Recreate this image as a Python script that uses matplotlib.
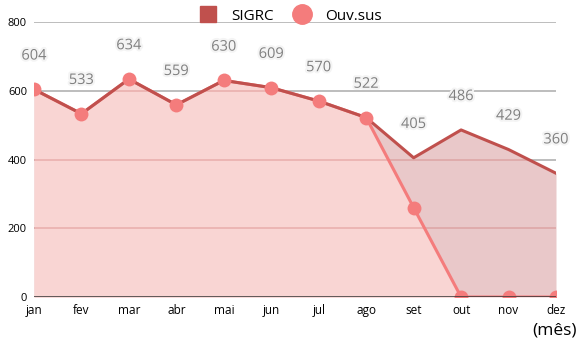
import numpy as np
import matplotlib.pyplot as plt
import matplotlib.patheffects as pe
from matplotlib.lines import Line2D

plt.rcParams['font.family'] = ['Open Sans', 'DejaVu Sans']

# -------------------------------
# Data
# -------------------------------
months = ['jan', 'fev', 'mar', 'abr', 'mai', 'jun', 'jul', 'ago', 'set', 'out', 'nov', 'dez']
sigrc = [604, 533, 634, 559, 630, 609, 570, 522, 405, 486, 429, 360]
ouv_sus = [604, 533, 634, 559, 630, 609, 570, 522, 260, 0, 0, 0]
y_ticks = [0, 200, 400, 600, 800]

dark_red = '#c0504d'
salmon = '#f47c7c'

# -------------------------------
# Plot
# -------------------------------
fig = plt.figure(figsize=(5.78, 3.44), dpi=100)
ax = fig.add_axes([34 / 578, 1 - 297 / 344, (556 - 34) / 578, (297 - 22) / 344])
x = np.arange(len(months))

# grey grid for the empty part of the plot
for yv in y_ticks[1:]:
    ax.axhline(yv, color='#b8b8b8', lw=1.3, zorder=0)

# filled areas: SIGRC underneath, Ouv.sus over it
fill_sigrc = ax.fill_between(x, 0, sigrc, color='#e9c8c9', lw=0, zorder=1)
fill_ouv = ax.fill_between(x, 0, ouv_sus, color='#f9d5d3', lw=0, zorder=2)

# grid seen through the fills, tinted red
for yv in y_ticks[1:]:
    ln = ax.axhline(yv, color=dark_red, alpha=0.25, lw=1.3, zorder=3)
    ln.set_clip_path(fill_sigrc.get_paths()[0], fill_sigrc.get_transform())

ax.plot(x, ouv_sus, color=salmon, lw=2.2, zorder=4)
ax.plot(x, sigrc, color=dark_red, lw=2.2, zorder=5)
# scatter so the points on the plot edges get cut by the axes box
ax.scatter(x, ouv_sus, s=100, color=salmon, lw=0, zorder=6)

# value labels for SIGRC
halo = [pe.withStroke(linewidth=3, foreground='#f4f4f4')]
for xi, v in zip(x, sigrc):
    ax.annotate(str(v), (xi, v), xytext=(0, 24), textcoords='offset points',
                ha='center', va='center', fontsize=10.5, color='#7f7f7f',
                path_effects=halo, zorder=7, annotation_clip=False)

ax.axhline(0, color='#333333', lw=1.8, zorder=7)

ax.set_xlim(0, len(months) - 1)
ax.set_ylim(0, 800)
ax.set_xticks(x)
ax.set_xticklabels(months, fontsize=8.5)
ax.set_yticks(y_ticks)
ax.set_yticklabels([str(t) for t in y_ticks], fontsize=8)
ax.tick_params(length=0, pad=5)
for s in ax.spines.values():
    s.set_visible(False)

fig.text(0.997, 0.04, '(mês)', ha='right', va='center', fontsize=12.5)

handles = [
    Line2D([], [], ls='none', marker='s', ms=12, color=dark_red),
    Line2D([], [], ls='none', marker='o', ms=14, color=salmon),
]
fig.legend(handles, ['SIGRC', 'Ouv.sus'], loc='center', bbox_to_anchor=(0.497, 1 - 16 / 344),
           ncol=2, frameon=False, fontsize=11, handletextpad=0.5, columnspacing=0.9)

fig.savefig('out.png', dpi=100)
